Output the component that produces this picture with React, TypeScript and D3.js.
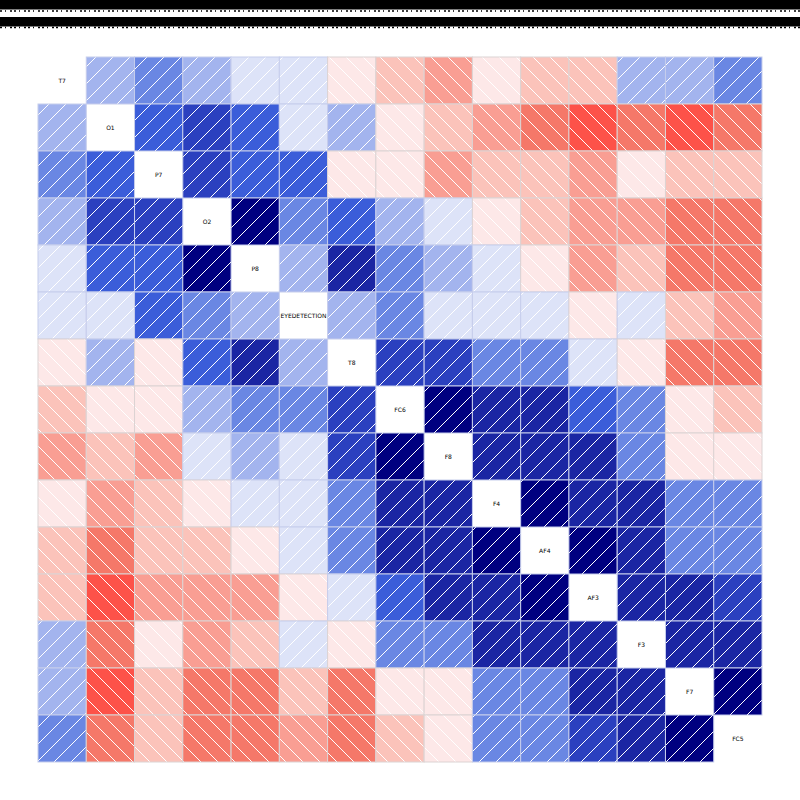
import { useEffect, useRef } from "react";
import * as d3 from "d3";

const width = 800;
const height = 800;

// channel names, in the order of the matrix
const channels = [
  "T7", "O1", "P7", "O2", "P8", "EYEDETECTION", "T8",
  "FC6", "F8", "F4", "AF4", "AF3", "F3", "F7", "FC5",
];

// upper triangle of the correlation matrix, row i holds columns i+1 .. 14
const rowT7 = [0.2, 0.35, 0.2, 0.05, 0.05, -0.05, -0.2, -0.3, -0.05, -0.2, -0.2, 0.2, 0.2, 0.35];
const rowO1 = [0.5, 0.6, 0.5, 0.05, 0.2, -0.05, -0.2, -0.3, -0.4, -0.5, -0.4, -0.5, -0.4];
const rowP7 = [0.6, 0.5, 0.5, -0.05, -0.05, -0.3, -0.2, -0.2, -0.3, -0.05, -0.2, -0.2];
const rowO2 = [0.9, 0.35, 0.5, 0.2, 0.05, -0.05, -0.2, -0.3, -0.3, -0.4, -0.4];
const rowP8 = [0.2, 0.75, 0.35, 0.2, 0.05, -0.05, -0.3, -0.2, -0.4, -0.4];
const rowEye = [0.2, 0.35, 0.05, 0.05, 0.05, -0.05, 0.05, -0.2, -0.3];
const rowT8 = [0.6, 0.6, 0.35, 0.35, 0.05, -0.05, -0.4, -0.4];
const rowFC6 = [0.9, 0.75, 0.75, 0.5, 0.35, -0.05, -0.2];
const rowF8 = [0.75, 0.75, 0.75, 0.35, -0.05, -0.05];
const rowF4 = [0.9, 0.75, 0.75, 0.35, 0.35];
const rowAF4 = [0.9, 0.75, 0.35, 0.35];
const rowAF3 = [0.75, 0.75, 0.6];
const rowF3 = [0.75, 0.75];
const rowF7 = [0.9];

const upper = [rowT7, rowO1, rowP7, rowO2, rowP8, rowEye, rowT8, rowFC6, rowF8, rowF4, rowAF4, rowAF3, rowF3, rowF7, []];

const thresholds = [-0.45, -0.35, -0.25, -0.1, 0, 0.1, 0.3, 0.45, 0.55, 0.7, 0.85];
const palette = [
  "#fd5249", "#f57869", "#f99e93", "#fbc3ba", "#fde8e8",
  "#dde3f8", "#a3b4ee", "#6a87e3", "#3b5dd9", "#2b40bf", "#1b26a3", "#000080",
];

const App = () => {
  const chartRef = useRef<SVGSVGElement>(null);

  useEffect(() => {
    const svg = d3.select(chartRef.current);
    svg.selectAll("*").remove();

    // flatten matrix into cells
    const cells: { r: number; c: number; v: number }[] = [];
    upper.forEach((row, i) => {
      row.forEach((v, k) => {
        const j = i + 1 + k;
        cells.push({ r: i, c: j, v });
        cells.push({ r: j, c: i, v });
      });
    });

    const x = d3.scaleBand().domain(channels).range([38, 762]);
    const y = d3.scaleBand().domain(channels).range([57, 762]);
    const color = d3.scaleThreshold<number, string>().domain(thresholds).range(palette);

    // hatch patterns: "/" for positive, "\" for negative
    const s = 17;
    const defs = svg.append("defs");
    palette.forEach((col, i) => {
      const pos = i >= 5;
      const p = defs.append("pattern")
        .attr("id", `hatch${i}`)
        .attr("patternUnits", "userSpaceOnUse")
        .attr("width", s)
        .attr("height", s);
      p.append("rect").attr("width", s).attr("height", s).attr("fill", col);
      const segs = pos
        ? [[0, s, s, 0], [-4, 4, 4, -4], [s - 4, s + 4, s + 4, s - 4]]
        : [[0, 0, s, s], [-4, s - 4, 4, s + 4], [s - 4, -4, s + 4, 4]];
      segs.forEach(sg => {
        p.append("line")
          .attr("x1", sg[0]).attr("y1", sg[1])
          .attr("x2", sg[2]).attr("y2", sg[3])
          .attr("stroke", "#fff")
          .attr("stroke-width", 1)
          .attr("shape-rendering", "crispEdges");
      });
    });

    svg.append("g")
      .selectAll("rect")
      .data(cells)
      .enter().append("rect")
      .attr("x", d => x(channels[d.c])!)
      .attr("y", d => y(channels[d.r])!)
      .attr("width", x.bandwidth())
      .attr("height", y.bandwidth())
      .attr("fill", d => `url(#hatch${palette.indexOf(color(d.v))})`)
      .attr("stroke", d => (d.v > 0 ? "#c6cdec" : "#dcd3d3"))
      .attr("stroke-width", 1);

    // names on the diagonal
    svg.append("g")
      .selectAll("text")
      .data(channels)
      .enter().append("text")
      .attr("x", d => x(d)! + x.bandwidth() / 2)
      .attr("y", d => y(d)! + y.bandwidth() / 2)
      .attr("dy", "0.35em")
      .attr("text-anchor", "middle")
      .style("font-family", "DejaVu Sans, Verdana, sans-serif")
      .style("font-size", "6px")
      .attr("fill", "#000")
      .text(d => d);

    // garbled header bands at the top
    const top = svg.append("g");
    [[0, 9.5, 11], [17, 9.5, 27.5]].forEach(b => {
      top.append("rect")
        .attr("x", 0).attr("y", b[0])
        .attr("width", width).attr("height", b[1])
        .attr("fill", "#000");
      top.append("line")
        .attr("x1", 0).attr("x2", width)
        .attr("y1", b[2]).attr("y2", b[2])
        .attr("stroke", "#000")
        .attr("stroke-width", 1.5)
        .attr("stroke-dasharray", "2 3 1 4 2 2");
    });
  }, []);

  return (
    <svg
      ref={chartRef}
      width={width}
      height={height}
      style={{ position: "absolute", left: 0, top: 0, background: "#fff" }}
    ></svg>
  );
};

export default App;
